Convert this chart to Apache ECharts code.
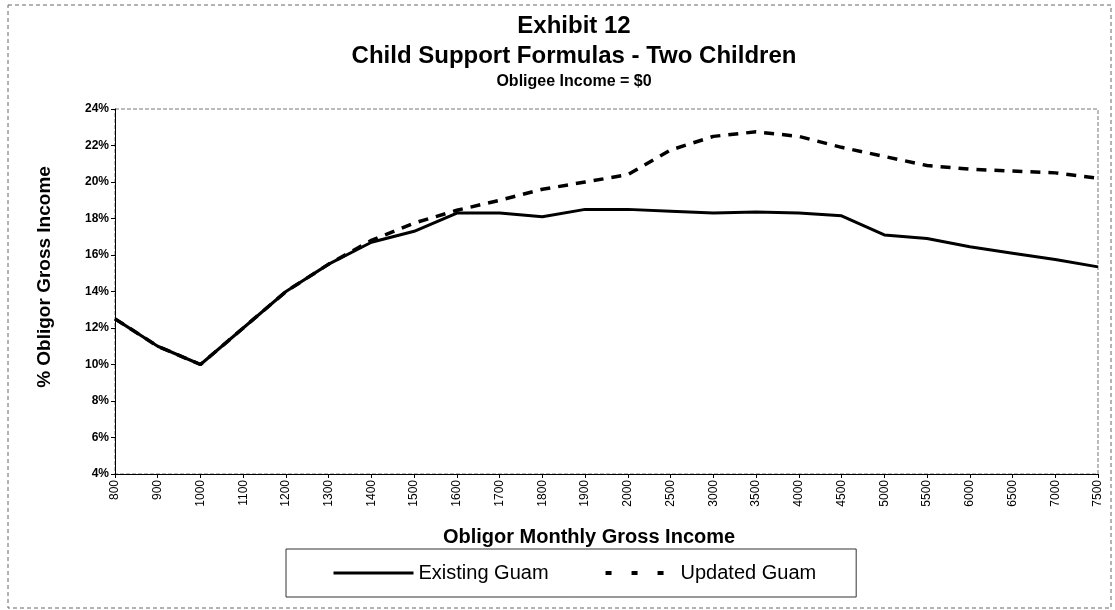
<!DOCTYPE html>
<html>
<head>
<meta charset="utf-8">
<script src="https://cdn.jsdelivr.net/npm/echarts@6/dist/echarts.min.js"></script>
<style>
html,body{margin:0;padding:0;background:#fff;}
#echartsDiv{width:1115px;height:610px;}
</style>
</head>
<body>
<div id="echartsDiv"></div>
<script>
var myChart=echarts.init(document.getElementById('echartsDiv'));

//x axis categories: obligor monthly gross income
var incomes=['800','900','1000','1100','1200','1300','1400','1500','1600','1700','1800','1900','2000',
	'2500','3000','3500','4000','4500','5000','5500','6000','6500','7000','7500'];
//% of obligor gross income
var existingGuam=[12.5,11.0,10.0,12.0,14.0,15.5,16.7,17.3,18.3,18.3,18.1,18.5,18.5,
	18.4,18.3,18.35,18.3,18.15,17.1,16.9,16.45,16.1,15.75,15.35];
var updatedGuam=[12.5,11.0,10.0,12.0,14.0,15.5,16.8,17.75,18.45,19.0,19.6,20.0,20.4,
	21.75,22.5,22.75,22.5,21.9,21.4,20.9,20.7,20.6,20.5,20.2];

var font='Liberation Sans, Arial, sans-serif';

var option={
	animation:false,
	title:[{
		text:'Exhibit 12',left:569,top:9,textAlign:'center',
		textStyle:{fontFamily:font,fontSize:24,fontWeight:'bold',color:'#000'}
	},{
		text:'Child Support Formulas - Two Children',left:569,top:39,textAlign:'center',
		textStyle:{fontFamily:font,fontSize:24,fontWeight:'bold',color:'#000'}
	},{
		text:'Obligee Income = $0',left:569,top:69,textAlign:'center',
		textStyle:{fontFamily:font,fontSize:16,fontWeight:'bold',color:'#000'}
	}],
	grid:{
		left:115,right:17,top:109,bottom:136,
		show:true,borderColor:'#777',borderWidth:1,borderType:'dashed'
	},
	legend:{
		left:286,top:549,
		padding:[14,40,14,46],
		borderColor:'#333',borderWidth:1,
		itemWidth:80,itemHeight:20,itemGap:45,
		itemStyle:{opacity:0},
		textStyle:{fontFamily:font,fontSize:20,color:'#000'},
		data:[
			{name:'Existing Guam',lineStyle:{width:3}},
			{name:'Updated Guam',lineStyle:{width:4,type:[6,20],dashOffset:16}}
		]
	},
	xAxis:{
		type:'category',
		data:incomes,
		boundaryGap:false,
		axisLine:{lineStyle:{color:'#000',width:1}},
		axisTick:{length:4,lineStyle:{color:'#000'}},
		axisLabel:{rotate:90,margin:6,fontFamily:font,fontSize:12,color:'#000'},
		splitLine:{show:false}
	},
	yAxis:{
		type:'value',
		min:4,max:24,interval:2,
		axisLine:{show:true,lineStyle:{color:'#000',width:1}},
		axisTick:{show:true,length:4,lineStyle:{color:'#000'}},
		axisLabel:{formatter:'{value}%',margin:6,fontFamily:font,fontSize:12,fontWeight:'bold',color:'#000'},
		splitLine:{show:false}
	},
	series:[{
		name:'Existing Guam',
		type:'line',
		data:existingGuam,
		symbol:'none',
		color:'#000',
		lineStyle:{color:'#000',width:3}
	},{
		name:'Updated Guam',
		type:'line',
		data:updatedGuam,
		symbol:'none',
		color:'#000',
		lineStyle:{color:'#000',width:3.5,type:[10,8]}
	}],
	graphic:[{
		type:'rect',
		shape:{x:8,y:5,width:1103,height:603},
		style:{fill:'none',stroke:'#666',lineWidth:1,lineDash:[4,3]},
		silent:true
	},{
		type:'text',
		x:45,y:277,rotation:Math.PI/2,
		style:{text:'% Obligor Gross Income',fontFamily:font,fontSize:19,fontWeight:'bold',
			fill:'#000',align:'center',verticalAlign:'middle'}
	},{
		type:'text',
		x:589,y:537,
		style:{text:'Obligor Monthly Gross Income',fontFamily:font,fontSize:20,fontWeight:'bold',
			fill:'#000',align:'center',verticalAlign:'middle'}
	}]
};
myChart.setOption(option);
</script>
</body>
</html>
